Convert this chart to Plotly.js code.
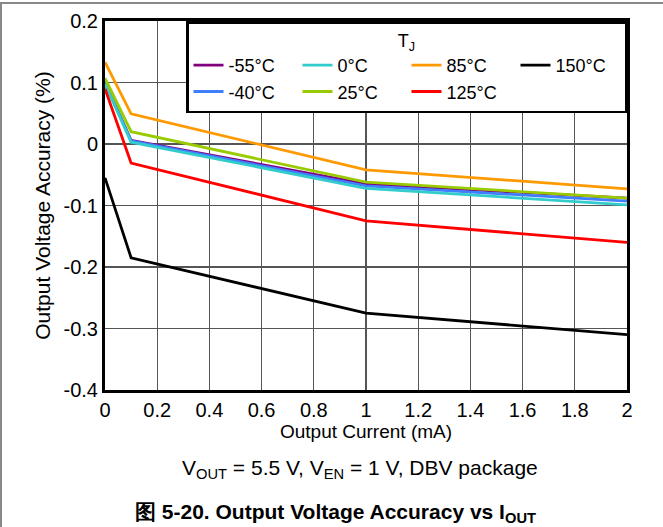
<!DOCTYPE html>
<html>
<head>
<meta charset="utf-8">
<script src="https://cdn.plot.ly/plotly-3.0.1.min.js"></script>
<style>
html,body{margin:0;padding:0;background:#fff;}
#chart{width:663px;height:527px;position:relative;}
#frame{position:absolute;left:0;top:2px;width:663px;height:525px;border-top:2px solid #888;border-left:2px solid #888;box-sizing:border-box;pointer-events:none;}
</style>
</head>
<body>
<div id="chart"></div>
<div id="frame"></div>
<script>
const current = [0, 0.1, 1, 2];
const tNames = ['-55°C', '-40°C', '0°C', '25°C', '85°C', '125°C', '150°C'];
const tColors = ['#800080', '#3f7fff', '#33cccc', '#99cc00', '#ff9900', '#ff0000', '#000000'];
const accM55 = [0.100, 0.006, -0.065, -0.088];
const accM40 = [0.100, 0.005, -0.068, -0.093];
const acc0 = [0.098, 0.003, -0.072, -0.099];
const acc25 = [0.107, 0.020, -0.062, -0.088];
const acc85 = [0.133, 0.049, -0.042, -0.073];
const acc125 = [0.090, -0.031, -0.125, -0.160];
const acc150 = [-0.055, -0.185, -0.275, -0.310];
const series = [accM55, accM40, acc0, acc25, acc85, acc125, acc150];
const legendOrder = [1, 5, 2, 6, 3, 7, 4];
const xTicks = [0, 0.2, 0.4, 0.6, 0.8, 1, 1.2, 1.4, 1.6, 1.8, 2];
const yTicks = [0.2, 0.1, 0, -0.1, -0.2, -0.3, -0.4];

const traces = series.map((s, i) => ({
  x: current, y: s, type: 'scatter', mode: 'lines', name: tNames[i],
  line: {color: tColors[i], width: 2.8}, legendrank: legendOrder[i]
}));

const F = 'Liberation Sans, Arial, sans-serif';
const fnt = (size) => ({family: F, size: size, color: '#000'});
const layout = {
  width: 663, height: 527,
  margin: {l: 105, r: 36, t: 21, b: 137},
  paper_bgcolor: '#fff', plot_bgcolor: '#fff',
  font: fnt(19),
  showlegend: true,
  legend: {
    orientation: 'h', x: 1, xanchor: 'right', y: 1, yanchor: 'top',
    bgcolor: '#fff', bordercolor: '#000', borderwidth: 2.5,
    entrywidth: 64, entrywidthmode: 'pixels',
    font: fnt(18),
    title: {text: 'T<sub>J</sub>', side: 'top center', font: fnt(18)},
    tracegroupgap: 0, itemwidth: 30
  },
  xaxis: {
    range: [0, 2], tickvals: xTicks, ticktext: xTicks.map(String),
    showgrid: true, gridcolor: '#555', gridwidth: 1.4,
    showline: true, linecolor: '#000', linewidth: 3, mirror: true,
    zeroline: false, ticks: '', tickfont: fnt(20),
    title: {text: 'Output Current (mA)', font: fnt(19), standoff: 5}
  },
  yaxis: {
    range: [-0.4, 0.2], tickvals: yTicks, ticktext: yTicks.map(String),
    showgrid: true, gridcolor: '#555', gridwidth: 1.4,
    showline: true, linecolor: '#000', linewidth: 3, mirror: true,
    zeroline: false, ticks: '', tickfont: fnt(20),
    title: {text: 'Output Voltage Accuracy (%)', font: fnt(21), standoff: 8}
  },
  annotations: [
    {text: 'V<sub>OUT</sub> = 5.5 V, V<sub>EN</sub> = 1 V, DBV package', xref: 'paper', yref: 'paper',
     x: 0.488, y: -0.215, xanchor: 'center', yanchor: 'middle', showarrow: false,
     font: fnt(21)},
    {text: '<b>图 5-20. Output Voltage Accuracy vs I<sub>OUT</sub></b>', xref: 'paper', yref: 'paper',
     x: 0.441, y: -0.333, xanchor: 'center', yanchor: 'middle', showarrow: false,
     font: fnt(21)}
  ]
};
Plotly.newPlot('chart', traces, layout, {displayModeBar: false, staticPlot: true});
</script>
</body>
</html>
